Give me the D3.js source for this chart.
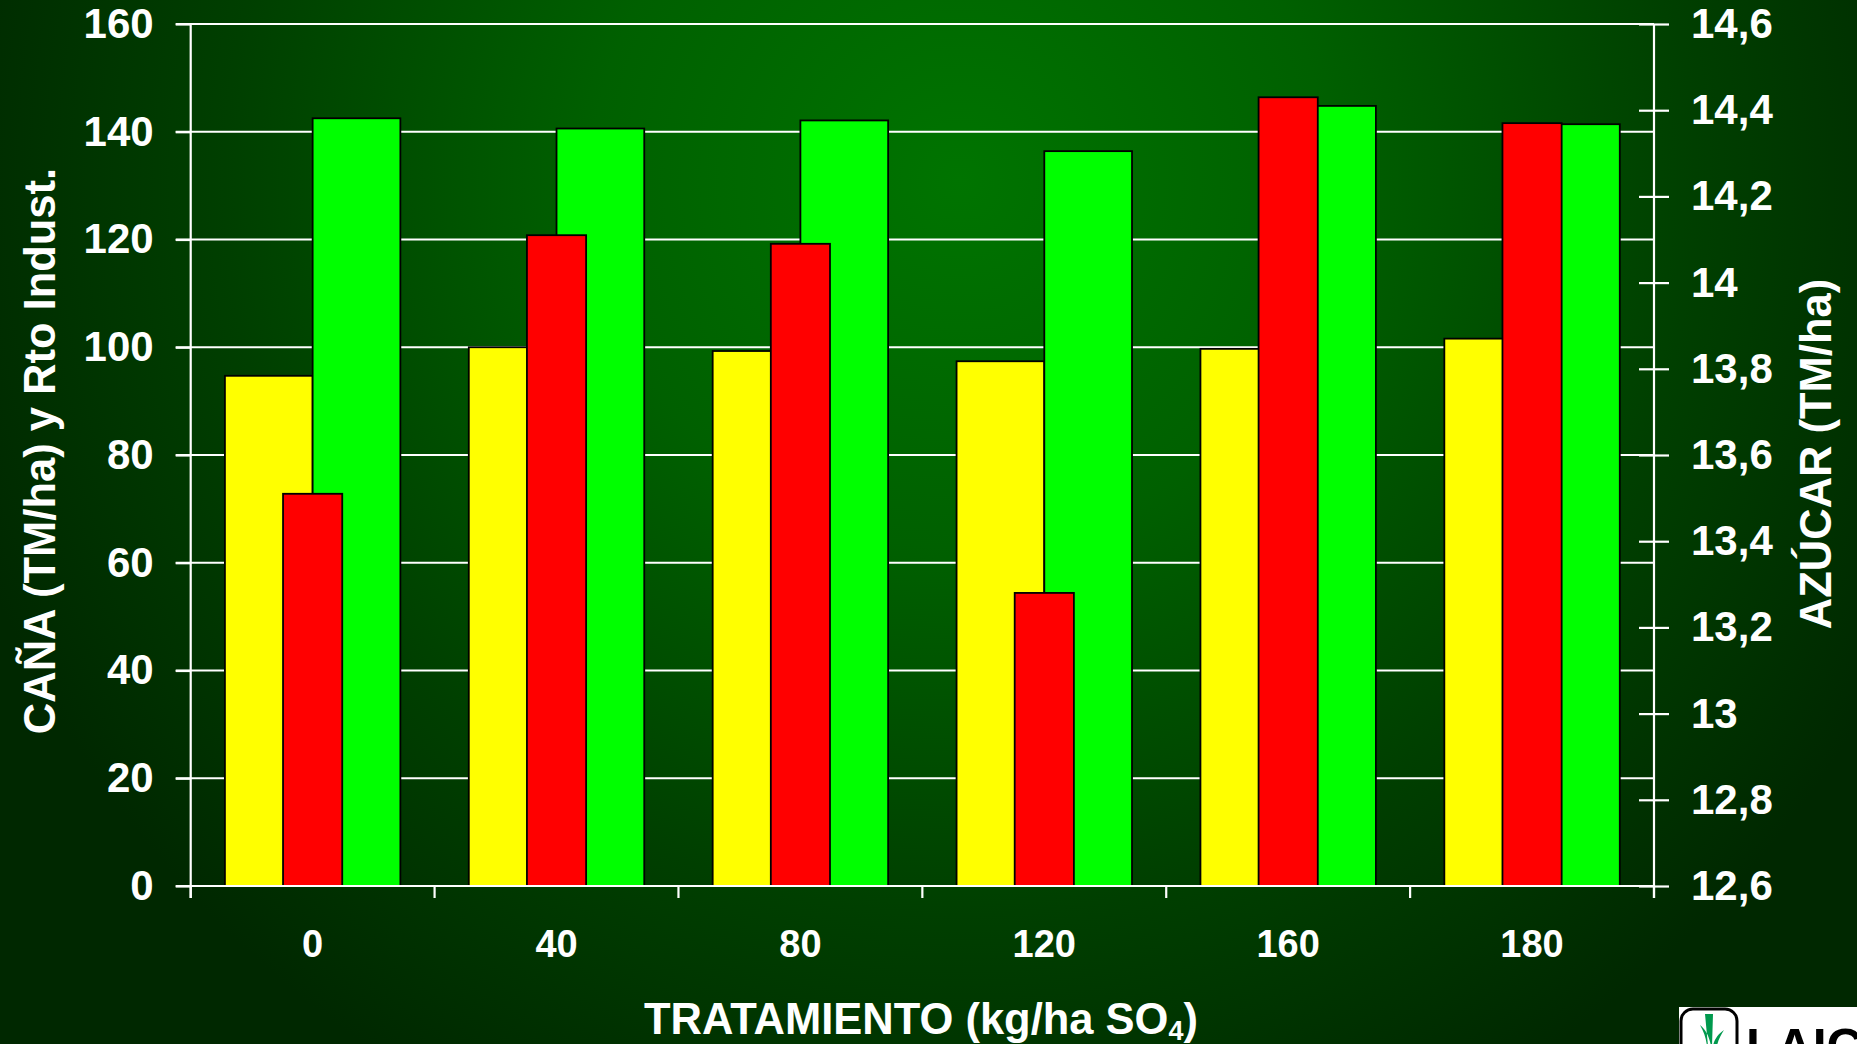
<!DOCTYPE html>
<html>
<head>
<meta charset="utf-8">
<script src="https://cdn.jsdelivr.net/npm/d3@7"></script>
<style>
  html, body { margin: 0; padding: 0; background: #002800; overflow: hidden; }
  text { font-family: "Liberation Sans", Arial, sans-serif; font-weight: bold; fill: white; }
</style>
</head>
<body>
<div id="chart"></div>
<script>
// Données
const tratamientos = ["0", "40", "80", "120", "160", "180"];
const rtoIndust = [94.7, 100.0, 99.3, 97.4, 99.7, 101.6];     // jaune, axe gauche
const cana = [142.5, 140.6, 142.1, 136.4, 144.8, 141.4];       // vert, axe gauche
const azucar = [13.51, 14.11, 14.09, 13.28, 14.43, 14.37];     // rouge, axe droit
const leftTicks = [0, 20, 40, 60, 80, 100, 120, 140, 160];
const rightTicks = [12.6, 12.8, 13, 13.2, 13.4, 13.6, 13.8, 14, 14.2, 14.4, 14.6];

const width = 1857, height = 1044;
const plotLeft = 190.7, plotRight = 1654, plotTop = 24, plotBottom = 886;

const svg = d3.select("#chart")
    .append("svg")
    .attr("width", width)
    .attr("height", height);

// Fond dégradé vert
const defs = svg.append("defs");
const grad = defs.append("radialGradient")
    .attr("id", "bg")
    .attr("gradientUnits", "userSpaceOnUse")
    .attr("cx", 960).attr("cy", 180).attr("r", 1050);
grad.append("stop").attr("offset", "0").attr("stop-color", "#007400");
grad.append("stop").attr("offset", "0.35").attr("stop-color", "#006000");
grad.append("stop").attr("offset", "0.7").attr("stop-color", "#003f00");
grad.append("stop").attr("offset", "1").attr("stop-color", "#002800");

svg.append("rect")
    .attr("width", width)
    .attr("height", height)
    .attr("fill", "url(#bg)");

// Échelles
const x0 = d3.scaleBand()
    .domain(tratamientos)
    .range([plotLeft, plotRight])
    .padding(0);

const x1 = d3.scaleBand()
    .domain(["rto", "cana"])
    .range([0, x0.bandwidth()])
    .paddingInner(0)
    .paddingOuter(0.39);

const xr = d3.scaleBand()
    .domain(["azucar"])
    .range([0, x0.bandwidth()])
    .paddingOuter(1.56);

const yL = d3.scaleLinear().domain([0, 160]).range([plotBottom, plotTop]);
const yR = d3.scaleLinear().domain([12.6, 14.6]).range([plotBottom, plotTop]);

// Grille horizontale
svg.append("g")
    .selectAll("line")
    .data(leftTicks.slice(1))
    .join("line")
    .attr("x1", plotLeft - 15)
    .attr("x2", plotRight)
    .attr("y1", d => yL(d))
    .attr("y2", d => yL(d))
    .attr("stroke", "white")
    .attr("stroke-width", 2.2);

// Barres jaunes et vertes
const groups = svg.append("g")
    .selectAll("g")
    .data(tratamientos)
    .join("g")
    .attr("transform", d => `translate(${x0(d)},0)`);

groups.append("rect")
    .attr("x", x1("rto"))
    .attr("width", x1.bandwidth())
    .attr("y", (d, i) => yL(rtoIndust[i]))
    .attr("height", (d, i) => yL(0) - yL(rtoIndust[i]))
    .attr("fill", "#ffff00")
    .attr("stroke", "black")
    .attr("stroke-width", 1.8);

groups.append("rect")
    .attr("x", x1("cana"))
    .attr("width", x1.bandwidth())
    .attr("y", (d, i) => yL(cana[i]))
    .attr("height", (d, i) => yL(0) - yL(cana[i]))
    .attr("fill", "#00ff00")
    .attr("stroke", "black")
    .attr("stroke-width", 1.8);

// Barres rouges (axe secondaire) par-dessus
groups.append("rect")
    .attr("x", xr("azucar"))
    .attr("width", xr.bandwidth())
    .attr("y", (d, i) => yR(azucar[i]))
    .attr("height", (d, i) => yR(12.6) - yR(azucar[i]))
    .attr("fill", "#ff0000")
    .attr("stroke", "black")
    .attr("stroke-width", 1.8);

// Axe gauche
const axisLeft = svg.append("g")
    .attr("transform", `translate(${plotLeft},0)`)
    .call(d3.axisLeft(yL).tickValues(leftTicks).tickSize(15).tickPadding(22).tickFormat(d3.format("d")));
axisLeft.select(".domain").remove();
axisLeft.selectAll(".tick line").attr("stroke", "white").attr("stroke-width", 2.2);
axisLeft.selectAll(".tick text")
    .attr("font-size", 42)
    .attr("font-family", null)
    .attr("fill", "white");
svg.append("line")
    .attr("x1", plotLeft).attr("x2", plotLeft)
    .attr("y1", plotTop).attr("y2", plotBottom + 12)
    .attr("stroke", "white").attr("stroke-width", 2.2);

// Axe droit
const axisRight = svg.append("g")
    .attr("transform", `translate(${plotRight},0)`)
    .call(d3.axisRight(yR).tickValues(rightTicks).tickSize(15).tickPadding(22)
        .tickFormat(d => String(+d.toFixed(1)).replace(".", ",")));
axisRight.select(".domain").remove();
axisRight.selectAll(".tick line")
    .attr("x1", -15)
    .attr("stroke", "white").attr("stroke-width", 2.2);
axisRight.selectAll(".tick text")
    .attr("font-size", 42)
    .attr("font-family", null)
    .attr("fill", "white");
svg.append("line")
    .attr("x1", plotRight).attr("x2", plotRight)
    .attr("y1", plotTop).attr("y2", plotBottom + 12)
    .attr("stroke", "white").attr("stroke-width", 2.2);

// Axe X
const bounds = tratamientos.map(d => x0(d)).concat([plotRight]);
svg.append("line")
    .attr("x1", plotLeft - 15).attr("x2", plotRight)
    .attr("y1", plotBottom).attr("y2", plotBottom)
    .attr("stroke", "white").attr("stroke-width", 2.2);
svg.append("g")
    .selectAll("line")
    .data(bounds)
    .join("line")
    .attr("x1", d => d).attr("x2", d => d)
    .attr("y1", plotBottom).attr("y2", plotBottom + 12)
    .attr("stroke", "white").attr("stroke-width", 2.2);

svg.append("g")
    .selectAll("text")
    .data(tratamientos)
    .join("text")
    .attr("x", d => x0(d) + x0.bandwidth() / 2)
    .attr("y", 957)
    .attr("text-anchor", "middle")
    .attr("font-size", 38)
    .text(d => d);

// Titres des axes
svg.append("text")
    .attr("transform", "translate(55,451) rotate(-90)")
    .attr("text-anchor", "middle")
    .attr("font-size", 43.5)
    .text("CAÑA (TM/ha) y Rto Indust.");

svg.append("text")
    .attr("transform", "translate(1831,454) rotate(-90)")
    .attr("text-anchor", "middle")
    .attr("font-size", 43.5)
    .text("AZÚCAR (TM/ha)");

const xt = svg.append("text")
    .attr("x", 921)
    .attr("y", 1034)
    .attr("text-anchor", "middle")
    .attr("font-size", 43.5);
xt.append("tspan").text("TRATAMIENTO (kg/ha SO");
xt.append("tspan").attr("font-size", 27).attr("dy", 6).text("4");
xt.append("tspan").attr("dy", -6).text(")");

// Logo (coin inférieur droit, coupé)
const logo = svg.append("g");
logo.append("rect")
    .attr("x", 1679).attr("y", 1007).attr("width", 180).attr("height", 40)
    .attr("fill", "white");
logo.append("rect")
    .attr("x", 1681).attr("y", 1009).attr("width", 56).attr("height", 50)
    .attr("rx", 12)
    .attr("fill", "white").attr("stroke", "black").attr("stroke-width", 3);
logo.append("path")
    .attr("d", "M1700,1025 C1704,1032 1706,1038 1707,1046 L1711,1046 C1709,1036 1706,1030 1700,1025 Z M1705,1014 L1713,1014 L1712,1046 L1708,1046 Z M1724,1030 C1718,1034 1714,1040 1713,1046 L1717,1046 C1718,1040 1721,1035 1724,1030 Z")
    .attr("fill", "#00994d");
logo.append("text")
    .attr("x", 1746).attr("y", 1064)
    .attr("font-family", "Liberation Serif, serif")
    .attr("font-size", 50)
    .style("fill", "black")
    .text("LAIC");
</script>
</body>
</html>
